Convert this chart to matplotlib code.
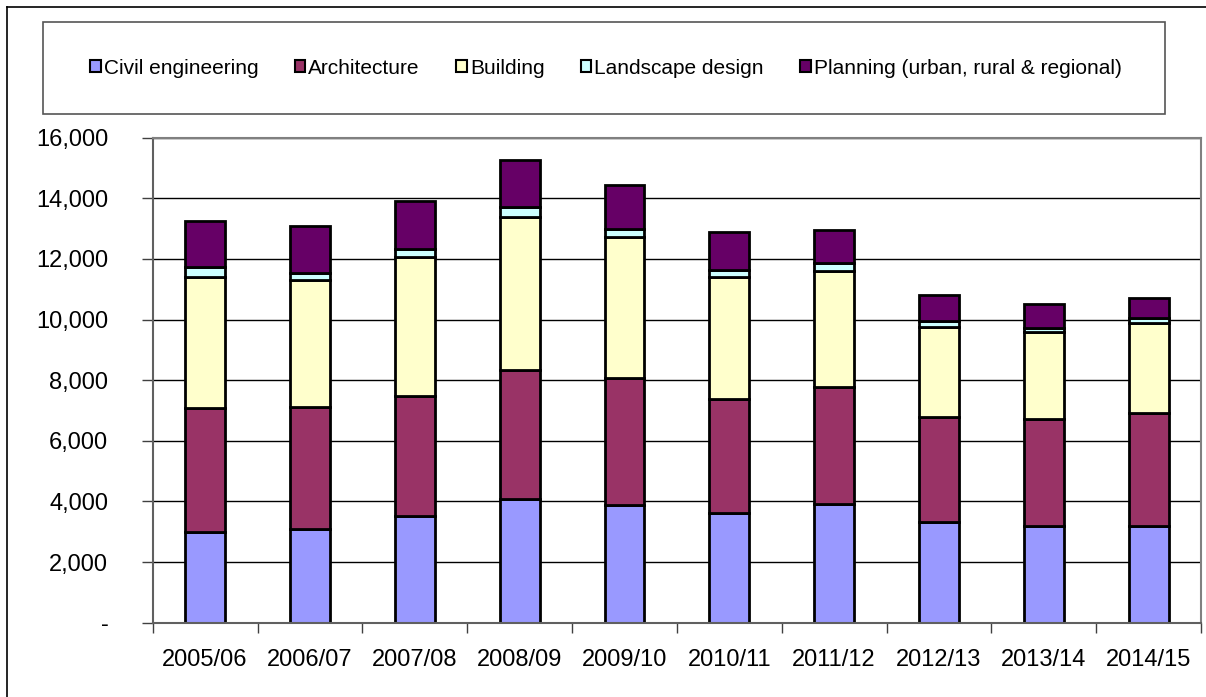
import matplotlib
matplotlib.use("Agg")
import matplotlib.pyplot as plt
import numpy as np
from matplotlib.patches import Patch, Rectangle
from matplotlib.lines import Line2D

plt.rcParams["font.family"] = ["Liberation Sans", "DejaVu Sans"]

years = ["2005/06", "2006/07", "2007/08", "2008/09", "2009/10",
         "2010/11", "2011/12", "2012/13", "2013/14", "2014/15"]
civil = [2980, 3090, 3530, 4070, 3880, 3610, 3920, 3310, 3200, 3200]
architecture = [4090, 4030, 3960, 4270, 4180, 3770, 3840, 3460, 3520, 3710]
building = [4340, 4190, 4590, 5060, 4650, 4030, 3830, 2990, 2880, 2990]
landscape = [330, 240, 250, 300, 280, 220, 260, 200, 130, 165]
planning = [1520, 1540, 1580, 1570, 1440, 1250, 1100, 850, 780, 660]

series_names = ["Civil engineering", "Architecture", "Building",
                "Landscape design", "Planning (urban, rural & regional)"]
series_colors = ["#9999FF", "#993366", "#FFFFCC", "#CCFFFF", "#660066"]
y_ticks = [0, 2000, 4000, 6000, 8000, 10000, 12000, 14000, 16000]
y_tick_labels = ["-", "2,000", "4,000", "6,000", "8,000", "10,000",
                 "12,000", "14,000", "16,000"]

W, H = 1206, 697
fig = plt.figure(figsize=(W / 100, H / 100), dpi=100)
ax = fig.add_axes([152.7 / W, 1 - 622.7 / H, (1201 - 152.7) / W, (622.7 - 137.7) / H])

x = np.arange(len(years))
bottom = np.zeros(len(years))
for name, vals, col in zip(series_names,
                           [civil, architecture, building, landscape, planning],
                           series_colors):
    ax.bar(x, vals, width=0.38, bottom=bottom, color=col, edgecolor="black",
           linewidth=2, zorder=3, label=name)
    bottom += np.array(vals)

ax.set_xlim(-0.5, len(years) - 0.5)
ax.set_ylim(0, 16000)
ax.set_yticks(y_ticks)
ax.set_yticklabels(y_tick_labels, fontsize=17)
ax.set_xticks(x)
ax.set_xticklabels(years, fontsize=17)
ax.set_xticks(np.arange(-0.5, len(years)), minor=True)
ax.tick_params(axis="x", which="major", length=0, pad=19)
ax.tick_params(axis="x", which="minor", length=7, width=1, color="#404040")
ax.tick_params(axis="y", length=8, width=1, color="#404040", pad=24)

ax.set_axisbelow(True)
ax.yaxis.grid(True, color="black", linewidth=1)
for side in ["top", "right"]:
    ax.spines[side].set_color("#808080")
    ax.spines[side].set_linewidth(1.5)
    ax.spines[side].set_zorder(4)
for side in ["left", "bottom"]:
    ax.spines[side].set_color("#606060")
    ax.spines[side].set_linewidth(1.5)
    ax.spines[side].set_zorder(4)

# outer chart border (left and top only visible)
fig.add_artist(Line2D([7 / W, 7 / W], [0, 1 - 7 / H], transform=fig.transFigure,
                      color="black", linewidth=1.2))
fig.add_artist(Line2D([7 / W, 1], [1 - 7 / H, 1 - 7 / H], transform=fig.transFigure,
                      color="black", linewidth=1.2))

# legend box
fig.add_artist(Rectangle((43 / W, 1 - 114 / H), (1165 - 43) / W, (114 - 22) / H,
                         transform=fig.transFigure, fill=False,
                         edgecolor="#555555", linewidth=1.2))
handles = [Patch(facecolor=c, edgecolor="black", linewidth=1.5, label=n)
           for n, c in zip(series_names, series_colors)]
fig.legend(handles=handles, loc="center", bbox_to_anchor=(606 / W, 1 - 68 / H),
           ncol=5, frameon=False, fontsize=15, handlelength=0.5,
           handleheight=0.5, handletextpad=0.15, columnspacing=1.75)

fig.savefig("out.png", dpi=100)
